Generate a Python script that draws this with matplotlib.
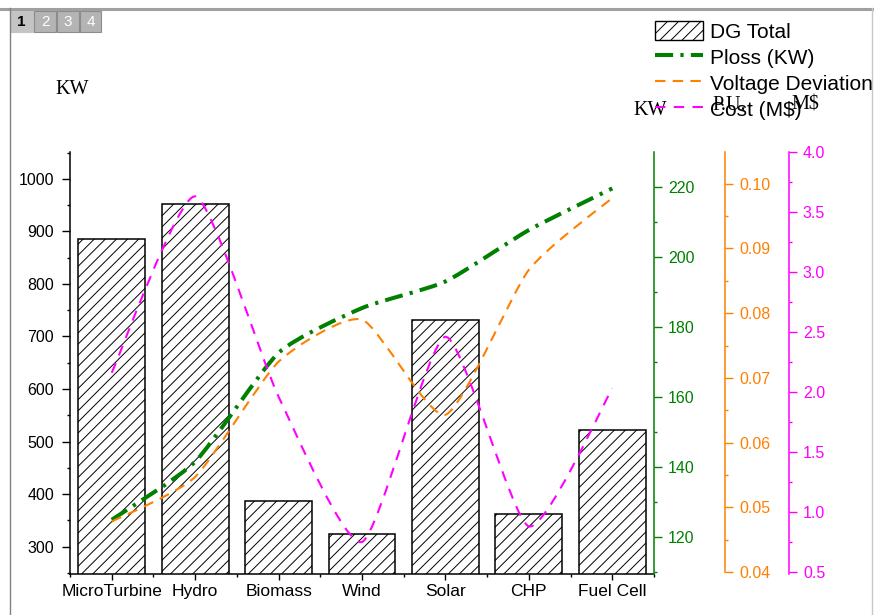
import numpy as np
import matplotlib
matplotlib.use("Agg")
import matplotlib.pyplot as plt
from matplotlib.path import Path
from matplotlib.patches import PathPatch, Patch, Rectangle
from matplotlib.lines import Line2D
from matplotlib.ticker import MultipleLocator

plt.rcParams['font.family'] = ['Liberation Sans', 'DejaVu Sans']
plt.rcParams['hatch.linewidth'] = 0.7

categories = ['MicroTurbine', 'Hydro', 'Biomass', 'Wind', 'Solar', 'CHP', 'Fuel Cell']
dg_total = [885, 953, 386, 324, 732, 362, 522]            # KW
ploss = [124.8, 141.4, 172.5, 185.3, 192.9, 207.6, 219.5]  # KW
voltage_dev = [0.0478, 0.0547, 0.0725, 0.0790, 0.0643, 0.0867, 0.0978]  # P.U.
cost = [2.16, 3.63, 1.96, 0.75, 2.46, 0.88, 2.03]         # M$

GREEN = '#008000'
ORANGE = '#FF8000'
MAGENTA = '#FF00FF'
W, H = 874, 615


def spline_path(x, y, tension=0.6):
    # Cardinal spline through the points, written as cubic Bezier segments
    pts = np.column_stack([x, y]).astype(float)
    n = len(pts)
    verts = [pts[0]]
    codes = [Path.MOVETO]
    k = tension / 6
    for i in range(n - 1):
        p0 = pts[max(i - 1, 0)]
        p1 = pts[i]
        p2 = pts[i + 1]
        p3 = pts[min(i + 2, n - 1)]
        verts += [p1 + (p2 - p0) * k, p2 - (p3 - p1) * k, p2]
        codes += [Path.CURVE4] * 3
    return Path(verts, codes)


def px(x, y):
    return x / W, 1 - y / H


fig = plt.figure(figsize=(W / 100, H / 100), dpi=100)
ax = fig.add_axes([70 / W, 1 - 574 / H, 584 / W, 422 / H])

x = np.arange(len(categories))
ax.bar(x, dg_total, width=0.8, facecolor='white', edgecolor='black',
       linewidth=1.1, hatch='///')
ax.set_xlim(-0.5, len(categories) - 0.5)
ax.set_ylim(248, 1051)
ax.set_xticks(x)
ax.set_xticklabels(categories, fontsize=12.5)
ax.set_xticks(np.arange(len(categories) + 1) - 0.5, minor=True)
ax.yaxis.set_major_locator(MultipleLocator(100))
ax.yaxis.set_minor_locator(MultipleLocator(50))
ax.set_yticks(np.arange(300, 1001, 100))
ax.tick_params(axis='y', which='major', length=6, width=1, labelsize=11.5, pad=5.5)
ax.tick_params(axis='y', which='minor', length=2.5, width=1)
ax.tick_params(axis='x', which='major', length=4.5, width=1, pad=3)
ax.tick_params(axis='x', which='minor', length=2.5, width=1)
ax.spines['top'].set_visible(False)
ax.spines['right'].set_visible(False)
for s in ('left', 'bottom'):
    ax.spines[s].set_linewidth(1.1)
ax.set_ylabel('KW', family='Liberation Serif', fontsize=14.5, rotation=0)
ax.yaxis.set_label_coords(0.003, 1.126)

# Ploss axis
ax2 = ax.twinx()
ax2.set_ylim(109.3, 229.9)
ax2.add_patch(PathPatch(spline_path(x, ploss), fill=False, edgecolor=GREEN,
                        linewidth=2.9, linestyle=(0, (4.5, 1.8, 0.8, 1.8))))
ax2.yaxis.set_major_locator(MultipleLocator(20))
ax2.yaxis.set_minor_locator(MultipleLocator(10))
ax2.set_yticks(np.arange(120, 221, 20))
ax2.set_ylabel('KW', family='Liberation Serif', fontsize=14.5, rotation=0)
ax2.yaxis.set_label_coords(0.993, 1.121)

# Voltage deviation axis
ax3 = ax.twinx()
ax3.spines['right'].set_position(('axes', 1.1216))
ax3.set_ylim(0.0397, 0.1049)
ax3.add_patch(PathPatch(spline_path(x, voltage_dev), fill=False, edgecolor=ORANGE,
                        linewidth=1.5, linestyle=(0, (5, 3.5))))
ax3.yaxis.set_major_locator(MultipleLocator(0.01))
ax3.yaxis.set_minor_locator(MultipleLocator(0.005))
ax3.set_yticks(np.arange(0.04, 0.1001, 0.01))
ax3.yaxis.set_major_formatter(matplotlib.ticker.FormatStrFormatter('%.2f'))
ax3.set_ylabel('P.U.', family='Liberation Serif', fontsize=14.5, rotation=0)
ax3.yaxis.set_label_coords(1.128, 1.133)

# Cost axis
ax4 = ax.twinx()
ax4.spines['right'].set_position(('axes', 1.2312))
ax4.set_ylim(0.483, 4.0)
ax4.add_patch(PathPatch(spline_path(x, cost), fill=False, edgecolor=MAGENTA,
                        linewidth=1.5, linestyle=(0, (5, 4))))
ax4.yaxis.set_major_locator(MultipleLocator(0.5))
ax4.yaxis.set_minor_locator(MultipleLocator(0.25))
ax4.set_yticks(np.arange(0.5, 4.01, 0.5))
ax4.yaxis.set_major_formatter(matplotlib.ticker.FormatStrFormatter('%.1f'))
ax4.set_ylabel('M$', family='Liberation Serif', fontsize=14.5, rotation=0)
ax4.yaxis.set_label_coords(1.26, 1.133)

for a, c in ((ax2, GREEN), (ax3, ORANGE), (ax4, MAGENTA)):
    for s in ('top', 'left', 'bottom'):
        a.spines[s].set_visible(False)
    a.spines['right'].set_color(c)
    a.spines['right'].set_linewidth(1.1)
    a.tick_params(axis='y', which='major', colors=c, length=6, width=1,
                  labelsize=11.5, pad=4)
    a.tick_params(axis='y', which='minor', colors=c, length=2.5, width=1)
    a.yaxis.label.set_color('black')
ax3.spines['right'].set_bounds(0.04, 0.1049)

handles = [
    Patch(facecolor='white', edgecolor='black', hatch='///', linewidth=1),
    Line2D([], [], color=GREEN, linewidth=2.9, linestyle=(0, (4.5, 1.8, 0.8, 1.8))),
    Line2D([], [], color=ORANGE, linewidth=1.5, linestyle=(0, (5, 3.5))),
    Line2D([], [], color=MAGENTA, linewidth=1.5, linestyle=(0, (5, 4))),
]
labels = ['DG Total', 'Ploss (KW)', 'Voltage Deviation', 'Cost (M$)']
fig.legend(handles, labels, loc='upper left', bbox_to_anchor=px(655, 21),
           frameon=False, fontsize=15, handlelength=2.3, handleheight=1.05,
           handletextpad=0.35, labelspacing=0.25, borderpad=0, borderaxespad=0)

# window frame and page tabs
fig.add_artist(Line2D([0, 872 / W], [1 - 8.5 / H] * 2, color='#A0A0A0', linewidth=2.2))
fig.add_artist(Line2D([9.5 / W] * 2, [0, 1 - 8 / H], color='#808080', linewidth=1))
fig.add_artist(Line2D([872 / W] * 2, [0, 1 - 8 / H], color='#C8C8C8', linewidth=1))
for i, (x0, x1) in enumerate([(10, 33), (34, 56), (57, 79), (80, 101)]):
    active = i == 0
    fig.add_artist(Rectangle(px(x0, 32), (x1 - x0) / W, 21 / H,
                             facecolor='#C4C4C4' if active else '#B4B4B4',
                             edgecolor='#C4C4C4' if active else '#8C8C8C',
                             linewidth=0.8))
    fig.text((x0 + x1) / 2 / W, 1 - 21.5 / H, str(i + 1), ha='center', va='center',
             fontsize=11, fontweight='bold' if active else 'normal',
             color='black' if active else 'white')

fig.savefig('out.png', dpi=100)
